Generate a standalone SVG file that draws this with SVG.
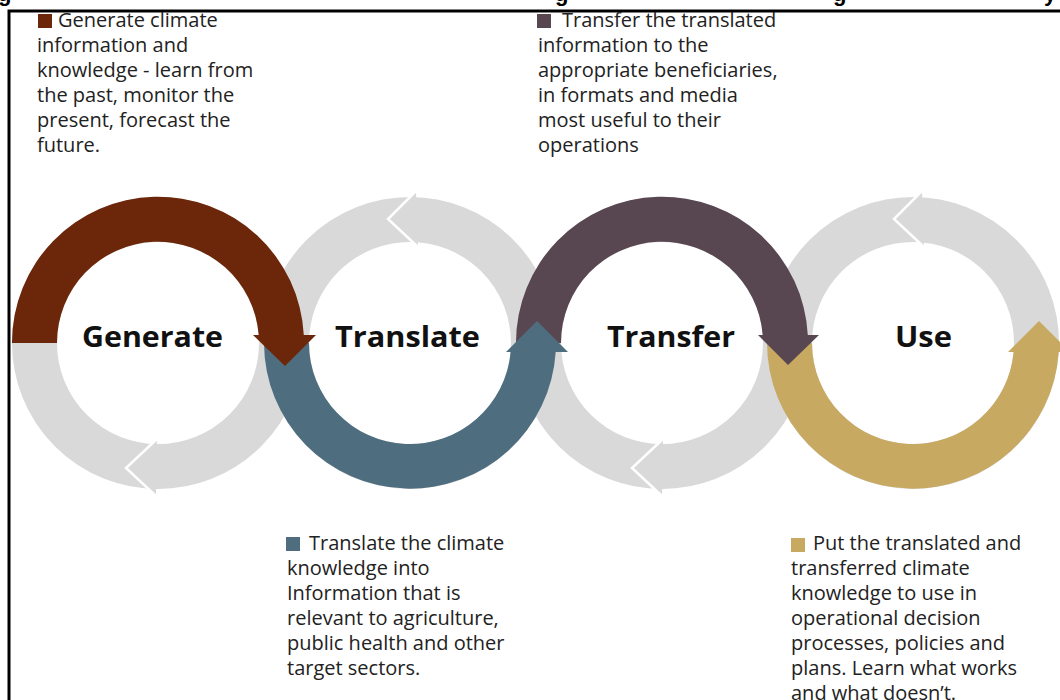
<svg xmlns="http://www.w3.org/2000/svg" width="1060" height="700" viewBox="0 0 1060 700">
  <defs>
    <style>
      .ring{fill:none;stroke:#d9d9d9;stroke-width:45}
      .head{fill:#d9d9d9}
      .notch{fill:none;stroke:#ffffff;stroke-width:2.5;stroke-linejoin:miter}
      .label{font-family:"Open Sans","Liberation Sans",sans-serif;font-weight:700;font-size:29px;fill:#111111}
      .body{font-family:"Open Sans","Liberation Sans",sans-serif;font-size:20px;fill:#222222}
      .clip{font-family:"Liberation Sans",Arial,sans-serif;font-size:22px;font-weight:700;fill:#000000}
      .frame{fill:none;stroke:#000000;stroke-width:3}
      .gen{fill:#6c260a}
      .tra{fill:#4e6e80}
      .trf{fill:#584650}
      .use{fill:#c7a962}
    </style>
  </defs>

  <rect width="1060" height="700" fill="#ffffff"/>

  <!-- descenders of a heading line cut off at the top edge -->
  <g id="cut-heading">
    <text class="clip" x="-2" y="0.5">g</text>
    <text class="clip" x="555" y="0.5">g</text>
    <text class="clip" x="833" y="0.5">g</text>
    <text class="clip" x="1044" y="0.5">y</text>
  </g>

  <!-- frame -->
  <path class="frame" d="M9,700 V11 H1060"/>

  <!-- grey return loops -->
  <g id="loops">
    <circle class="ring" cx="158" cy="343" r="123.5"/>
    <circle class="ring" cx="410" cy="343" r="123.5"/>
    <circle class="ring" cx="662" cy="343" r="123.5"/>
    <circle class="ring" cx="913" cy="343" r="123.5"/>
    <polygon class="head" points="157,439 126,468 156,496"/>
    <polyline class="notch" points="157,439 126,468 156,496"/>
    <polygon class="head" points="663,439 632,468 662,496"/>
    <polyline class="notch" points="663,439 632,468 662,496"/>
    <polygon class="head" points="416,191 388,219 418,247"/>
    <polyline class="notch" points="416,191 388,219 418,247"/>
    <polygon class="head" points="922,191 894,219 924,247"/>
    <polyline class="notch" points="922,191 894,219 924,247"/>
  </g>

  <!-- stage arrows, drawn so each head overlaps the next band -->
  <g id="connectors">
    <g id="arrow-use">
      <path class="use" d="M767,343 A146,146 0 0 0 1058.7,352 L1013.6,352 A101,101 0 0 1 812,343 Z"/>
      <path class="use" d="M1008,352 L1070,352 L1039,321 Z"/>
    </g>
    <g id="arrow-transfer">
      <path class="trf" d="M516,343 A146,146 0 0 1 807.8,335 L762.7,335 A101,101 0 0 0 561,343 Z"/>
      <path class="trf" d="M758,335 L819,335 L788,365 Z"/>
    </g>
    <g id="arrow-translate">
      <path class="tra" d="M264,343 A146,146 0 0 0 555.7,352 L510.6,352 A101,101 0 0 1 309,343 Z"/>
      <path class="tra" d="M506,352 L568,352 L537,321 Z"/>
    </g>
    <g id="arrow-generate">
      <path class="gen" d="M12,343 A146,146 0 0 1 303.8,335 L258.7,335 A101,101 0 0 0 57,343 Z"/>
      <path class="gen" d="M253,335 L316,335 L285,366 Z"/>
    </g>
  </g>

  <!-- stage nodes -->
  <g id="node-generate">
    <text class="label" x="82" y="347" textLength="141" lengthAdjust="spacingAndGlyphs">Generate</text>
  </g>
  <g id="node-translate">
    <text class="label" x="335" y="347" textLength="145" lengthAdjust="spacingAndGlyphs">Translate</text>
  </g>
  <g id="node-transfer">
    <text class="label" x="607" y="347" textLength="128" lengthAdjust="spacingAndGlyphs">Transfer</text>
  </g>
  <g id="node-use">
    <text class="label" x="895" y="347" textLength="57" lengthAdjust="spacingAndGlyphs">Use</text>
  </g>

  <!-- descriptions -->
  <g id="note-generate">
    <rect class="gen" x="38" y="14" width="14" height="14"/>
    <text class="body">
      <tspan x="58" y="27">Generate climate</tspan>
      <tspan x="37" y="52">information and</tspan>
      <tspan x="37" y="77">knowledge - learn from</tspan>
      <tspan x="37" y="102">the past, monitor the</tspan>
      <tspan x="37" y="127">present, forecast the</tspan>
      <tspan x="37" y="152">future.</tspan>
    </text>
  </g>
  <g id="note-transfer">
    <rect class="trf" x="537" y="14" width="14" height="14"/>
    <text class="body">
      <tspan x="562" y="27">Transfer the translated</tspan>
      <tspan x="538" y="52">information to the</tspan>
      <tspan x="538" y="77">appropriate beneficiaries,</tspan>
      <tspan x="538" y="102">in formats and media</tspan>
      <tspan x="538" y="127">most useful to their</tspan>
      <tspan x="538" y="152">operations</tspan>
    </text>
  </g>
  <g id="note-translate">
    <rect class="tra" x="286" y="537" width="14" height="14"/>
    <text class="body">
      <tspan x="309" y="550">Translate the climate</tspan>
      <tspan x="287" y="575">knowledge into</tspan>
      <tspan x="287" y="600">Information that is</tspan>
      <tspan x="287" y="625">relevant to agriculture,</tspan>
      <tspan x="287" y="650">public health and other</tspan>
      <tspan x="287" y="675">target sectors.</tspan>
    </text>
  </g>
  <g id="note-use">
    <rect class="use" x="791" y="538" width="14" height="14"/>
    <text class="body">
      <tspan x="813" y="550">Put the translated and</tspan>
      <tspan x="791" y="575">transferred climate</tspan>
      <tspan x="791" y="600">knowledge to use in</tspan>
      <tspan x="791" y="625">operational decision</tspan>
      <tspan x="791" y="650">processes, policies and</tspan>
      <tspan x="791" y="675">plans. Learn what works</tspan>
      <tspan x="791" y="700">and what doesn’t.</tspan>
    </text>
  </g>
</svg>
